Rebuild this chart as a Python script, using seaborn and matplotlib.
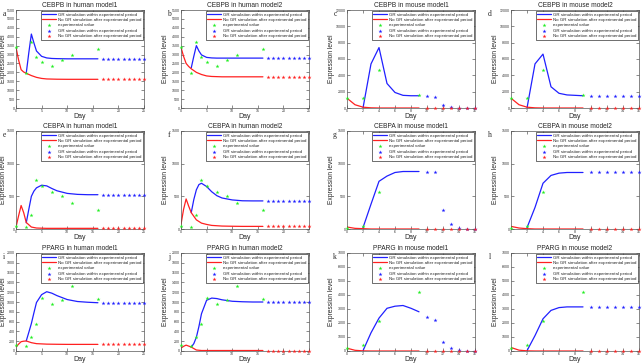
import seaborn as sns
import matplotlib.pyplot as plt

sns.set_style('ticks')
plt.rcParams['font.family'] = ['Liberation Sans', 'DejaVu Sans']

# time axes (days)
human_exp_days = [0, 2, 3, 4, 5, 7, 9, 11, 16]
human_gr_days = [2, 2.5, 3, 3.5, 4, 5, 6, 7, 8, 10, 12, 14, 16]
human_nogr_days = [0, 0.5, 1, 1.5, 2, 3, 4, 5, 6, 8, 10, 12, 14, 16]
human_after_days = [17, 18, 19, 20, 21, 22, 23, 24, 25]
mouse_exp_days = [0, 2, 4, 9]
mouse_exp_days_cebpa = [0, 2, 4]
mouse_gr_days = [2, 3, 4, 5, 6, 7, 8, 9]
mouse_nogr_days = [0, 1, 2, 3, 4, 5, 6, 7, 8, 9]
mouse_after_days = [10, 11, 12, 13, 14, 15, 16]

# experimental values
cebpb_h_exp = [3400, 1950, 3700, 2850, 2600, 2350, 2700, 2950, 3300]
cebpa_h_exp = [40, 25, 220, 745, 660, 570, 505, 405, 290]
pparg_h_exp = [120, 100, 280, 550, 1085, 965, 1035, 1320, 1055]
cebpb_m_exp = [1200, 1200, 4650, 1550]
cebpa_m_exp = [20, 45, 560]
pparg_m_exp = [200, 450, 2150, 4250]

# human simulations
cebpb_h1_gr = [1950, 3100, 4150, 3650, 3200, 2900, 2810, 2780, 2770, 2760, 2760, 2760, 2760]
cebpb_h1_nogr = [3400, 2700, 2150, 2020, 1950, 1820, 1720, 1660, 1630, 1615, 1610, 1610, 1610, 1610]
cebpb_h2_gr = [2250, 2900, 3500, 3200, 2980, 2840, 2810, 2800, 2800, 2800, 2800, 2800, 2800]
cebpb_h2_nogr = [3400, 2900, 2500, 2330, 2200, 2000, 1880, 1800, 1770, 1750, 1750, 1750, 1750, 1750]
cebpa_h1_gr = [95, 300, 500, 580, 630, 670, 660, 620, 585, 545, 530, 525, 525]
cebpa_h1_nogr = [30, 200, 360, 250, 100, 30, 15, 12, 10, 10, 10, 10, 10, 10]
cebpa_h2_gr = [250, 450, 600, 680, 700, 650, 570, 510, 475, 445, 432, 430, 430]
cebpa_h2_nogr = [70, 300, 460, 350, 250, 140, 90, 70, 55, 45, 42, 40, 40, 40]
pparg_h1_gr = [205, 380, 560, 780, 990, 1150, 1210, 1180, 1130, 1050, 1010, 995, 985]
pparg_h1_nogr = [80, 140, 190, 200, 205, 170, 150, 145, 140, 137, 135, 135, 135, 135]
pparg_h2_gr = [80, 150, 280, 500, 760, 1035, 1080, 1070, 1045, 1015, 1005, 1000, 1000]
pparg_h2_nogr = [60, 95, 120, 100, 80, 20, 10, 10, 10, 10, 10, 10, 10, 10]

# mouse simulations
cebpb_m1_gr = [0, 5400, 7400, 3000, 1900, 1550, 1500, 1500]
cebpb_m1_nogr = [1200, 400, 100, 20, 0, 0, 0, 0, 0, 0]
cebpb_m1_after = [1450, 1400, 400, 100, 20, 0, 0]
cebpb_m2_gr = [0, 5400, 6600, 2600, 1800, 1600, 1550, 1500]
cebpb_m2_nogr = [1200, 400, 100, 20, 0, 0, 0, 0, 0, 0]
cebpb_m2_after = [1500, 1500, 1500, 1500, 1500, 1500, 1500]
cebpa_m1_gr = [20, 380, 730, 810, 865, 880, 880, 880]
cebpa_m1_nogr = [30, 10, 5, 0, 0, 0, 0, 0, 0, 0]
cebpa_m1_after = [880, 880, 290, 70, 20, 5, 0]
cebpa_m2_gr = [20, 330, 700, 820, 855, 865, 865, 865]
cebpa_m2_nogr = [40, 15, 5, 0, 0, 0, 0, 0, 0, 0]
cebpa_m2_after = [865, 865, 865, 865, 865, 865, 865]
pparg_m1_gr = [20, 1300, 2350, 3050, 3200, 3250, 3050, 2800]
pparg_m1_nogr = [200, 50, 10, 0, 0, 0, 0, 0, 0, 0]
pparg_m1_after = [2450, 2200, 650, 200, 50, 10, 0]
pparg_m2_gr = [20, 1100, 2300, 2900, 3100, 3150, 3150, 3150]
pparg_m2_nogr = [250, 60, 10, 0, 0, 0, 0, 0, 0, 0]
pparg_m2_after = [3150, 3150, 3150, 3150, 3150, 3150, 3150]
mouse_nogr_after = [0, 0, 0, 0, 0, 0, 0]

lbl_gr = 'GR simulation within experimental period'
lbl_nogr = 'No GR simulation after experimental period'
lbl_exp = 'experimental value'

# (letter, title, species, gr, nogr, exp days, exp, gr after, nogr after, ymax, ystep)
panels = [
    ('a', 'CEBPB in human model1', 'h', cebpb_h1_gr, cebpb_h1_nogr, human_exp_days, cebpb_h_exp,
     [cebpb_h1_gr[-1]] * 9, [cebpb_h1_nogr[-1]] * 9, 5500, 500),
    ('b', 'CEBPB in human model2', 'h', cebpb_h2_gr, cebpb_h2_nogr, human_exp_days, cebpb_h_exp,
     [cebpb_h2_gr[-1]] * 9, [cebpb_h2_nogr[-1]] * 9, 5500, 500),
    ('c', 'CEBPB in mouse model1', 'm', cebpb_m1_gr, cebpb_m1_nogr, mouse_exp_days, cebpb_m_exp,
     cebpb_m1_after, mouse_nogr_after, 12000, 2000),
    ('d', 'CEBPB in mouse model2', 'm', cebpb_m2_gr, cebpb_m2_nogr, mouse_exp_days, cebpb_m_exp,
     cebpb_m2_after, mouse_nogr_after, 12000, 2000),
    ('e', 'CEBPA in human model1', 'h', cebpa_h1_gr, cebpa_h1_nogr, human_exp_days, cebpa_h_exp,
     [cebpa_h1_gr[-1]] * 9, [cebpa_h1_nogr[-1]] * 9, 1500, 500),
    ('f', 'CEBPA in human model2', 'h', cebpa_h2_gr, cebpa_h2_nogr, human_exp_days, cebpa_h_exp,
     [cebpa_h2_gr[-1]] * 9, [cebpa_h2_nogr[-1]] * 9, 1500, 500),
    ('g', 'CEBPA in mouse model1', 'm', cebpa_m1_gr, cebpa_m1_nogr, mouse_exp_days_cebpa, cebpa_m_exp,
     cebpa_m1_after, mouse_nogr_after, 1500, 500),
    ('h', 'CEBPA in mouse model2', 'm', cebpa_m2_gr, cebpa_m2_nogr, mouse_exp_days_cebpa, cebpa_m_exp,
     cebpa_m2_after, mouse_nogr_after, 1500, 500),
    ('i', 'PPARG in human model1', 'h', pparg_h1_gr, pparg_h1_nogr, human_exp_days, pparg_h_exp,
     [pparg_h1_gr[-1]] * 9, [pparg_h1_nogr[-1]] * 9, 2000, 200),
    ('j', 'PPARG in human model2', 'h', pparg_h2_gr, pparg_h2_nogr, human_exp_days, pparg_h_exp,
     [pparg_h2_gr[-1]] * 9, [pparg_h2_nogr[-1]] * 9, 2000, 200),
    ('k', 'PPARG in mouse model1', 'm', pparg_m1_gr, pparg_m1_nogr, mouse_exp_days, pparg_m_exp,
     pparg_m1_after, mouse_nogr_after, 7000, 1000),
    ('l', 'PPARG in mouse model2', 'm', pparg_m2_gr, pparg_m2_nogr, mouse_exp_days, pparg_m_exp,
     pparg_m2_after, mouse_nogr_after, 7000, 1000),
]

FW, FH = 644, 363
lefts = [16, 181, 347, 511]
tops = [10, 131, 253]
AW, AH = 128, 98
ylabel_x = [-0.068, -0.095, -0.095, -0.095]

fig = plt.figure(figsize=(FW / 100, FH / 100), dpi=100)

for n, (letter, title, sp, gr, nogr, ed, ev, gra, nogra, ymax, ystep) in enumerate(panels):
    r, c = divmod(n, 4)
    ax = fig.add_axes([lefts[c] / FW, 1 - (tops[r] + AH) / FH, AW / FW, AH / FH])
    if sp == 'h':
        gd, nd, ad, xmax, xstep = human_gr_days, human_nogr_days, human_after_days, 25, 5
    else:
        gd, nd, ad, xmax, xstep = mouse_gr_days, mouse_nogr_days, mouse_after_days, 16, 2

    sns.lineplot(x=gd, y=gr, color='#2020ff', lw=0.9, ax=ax, label=lbl_gr)
    sns.lineplot(x=nd, y=nogr, color='#ff2020', lw=0.9, ax=ax, label=lbl_nogr)
    sns.scatterplot(x=ed, y=ev, color='#22ee22', marker='*', s=9, linewidth=0,
                    ax=ax, label=lbl_exp, clip_on=False, zorder=3)
    sns.scatterplot(x=ad, y=gra, color='#2020ff', marker='*', s=9, linewidth=0,
                    ax=ax, label=lbl_gr, clip_on=False, zorder=3)
    sns.scatterplot(x=ad, y=nogra, color='#ff2020', marker='*', s=9, linewidth=0,
                    ax=ax, label=lbl_nogr, clip_on=False, zorder=3)

    ax.set_xlim(0, xmax)
    ax.set_xticks(range(0, xmax + 1, xstep))
    ax.set_ylim(0, ymax)
    ax.set_yticks(range(0, ymax + 1, ystep))
    ax.tick_params(direction='in', length=2, width=0.4, labelsize=2.6, pad=0.8,
                   top=True, right=True, colors='#333333')
    for s in ax.spines.values():
        s.set_linewidth(0.5)
        s.set_color('#555555')
    ax.set_title(title, fontsize=4.8, pad=2)
    ax.set_xlabel('Day', fontsize=5, labelpad=-0.3)
    ax.set_ylabel('Expression level', fontsize=4.8)
    ax.yaxis.set_label_coords(ylabel_x[c], 0.5)

    leg = ax.legend(loc='upper right', fontsize=3.2, handlelength=3.2, labelspacing=0.3,
                    borderpad=0.35, borderaxespad=0.2, handletextpad=0.4,
                    fancybox=False, framealpha=1, edgecolor='black', scatterpoints=1)
    leg.get_frame().set_linewidth(0.4)

    lx = lefts[c] - 12 if c < 3 else lefts[c] - 21
    fig.text(lx / FW, 1 - (tops[r] + 4) / FH, letter, fontsize=5.5,
             family='Liberation Serif', ha='center', va='center')

fig.savefig('out.png', dpi=100)
